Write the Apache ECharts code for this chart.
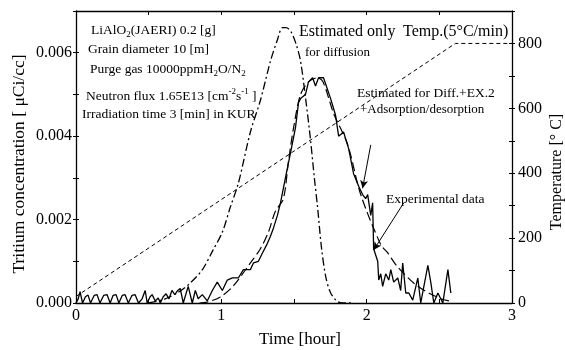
<!DOCTYPE html>
<html>
<head>
<meta charset="utf-8">
<script src="https://cdn.jsdelivr.net/npm/echarts@6/dist/echarts.min.js"></script>
<style>
html,body{margin:0;padding:0;background:#fff;}
#c{width:565px;height:350px;}
</style>
</head>
<body>
<div id="c"></div>
<script>
// ---- data (hours, concentration µCi/cc, temperature °C) ----
const expT = [0.00,0.015,0.028,0.045,0.065,0.083,0.10,0.125,0.145,0.165,0.19,0.214,0.235,0.255,0.276,0.295,0.318,0.338,0.36,0.385,0.407,0.43,0.455,0.476,0.49,0.51,0.524,0.545,0.566,0.58,0.60,0.62,0.64,0.66,0.68,0.70,0.717,0.738,0.772,0.80,0.821,0.841,0.869,0.903,0.938,0.972,1.007,1.041,1.076,1.117,1.152,1.20,1.221,1.255,1.283,1.317,1.338,1.359,1.386,1.407,1.441,1.476,1.51,1.531,1.545,1.579,1.60,1.628,1.648,1.669,1.703,1.752,1.786,1.807,1.841,1.876,1.91,1.945,1.972,1.993,2.007,2.028,2.041,2.048,2.076,2.083,2.097,2.11,2.131,2.152,2.166,2.186,2.214,2.234,2.248,2.269,2.29,2.317,2.352,2.372,2.421,2.441,2.462,2.49,2.524,2.559,2.579];
const expC = [0.0,0.0001,0.00027,0.0,0.00015,0.00019,0.0,0.00018,0.0002,0.0,0.00018,0.0002,0.0,0.00018,0.0002,0.0,0.00018,0.0002,0.0,0.00018,0.0002,0.0,0.0001,0.0003,0.0,0.00015,0.0002,0.00005,0.00012,0.0,0.00015,0.00022,0.0001,0.0003,0.0002,0.0003,0.00035,0.0,0.0004,0.0,0.0003,0.0001,0.0002,0.00005,0.0003,0.0005,0.0003,0.00055,0.0006,0.0006,0.0008,0.0008,0.00096,0.001,0.0012,0.00143,0.0016,0.0018,0.0021,0.0024,0.003,0.0036,0.0042,0.0048,0.0049,0.005,0.0053,0.0054,0.0052,0.0054,0.0054,0.0049,0.0045,0.004,0.0041,0.0037,0.0031,0.0028,0.0026,0.0025,0.0026,0.0021,0.0024,0.0013,0.001,0.00055,0.0007,0.0004,0.0007,0.00055,0.0008,0.0005,0.0006,0.0003,0.00096,0.00024,0.00024,0.00007,0.0006,0.0,0.0009,0.0005,0.0,0.00024,0.0,0.0008,0.00024];

const diffT = [0.5,0.6,0.7,0.786,0.87,0.94,1.007,1.062,1.117,1.2,1.269,1.338,1.385,1.42,1.445,1.48,1.515,1.545,1.58,1.614,1.64,1.662,1.69,1.72,1.75,1.79,1.83,1.9];
const diffC = [0.0,0.00008,0.00025,0.00048,0.0008,0.00125,0.0017,0.0023,0.00287,0.0041,0.00486,0.0058,0.0063,0.0066,0.0066,0.0065,0.0062,0.0058,0.0049,0.0039,0.003,0.0023,0.0013,0.0006,0.00026,0.00006,0.0,0.0];

const fullT = [0.85,0.9,0.99,1.08,1.2,1.269,1.324,1.372,1.427,1.462,1.497,1.545,1.6,1.66,1.7,1.772,1.869,1.959,2.097,2.145,2.214,2.352,2.51,2.566];
const fullC = [0.0,0.00002,0.00014,0.0004,0.00096,0.0013,0.0017,0.0022,0.0025,0.0034,0.0042,0.005,0.0053,0.0054,0.0053,0.00455,0.0038,0.0026,0.0014,0.0012,0.00086,0.0004,0.0001,0.00005];

const tempT = [0, 2.61, 3];
const tempC = [20, 800, 800];

const xTicks = ['0','1','2','3'];
const arrow1 = [[2.028,0.00379],[1.972,0.00275]];
const arrow2 = [[2.255,0.0024],[2.048,0.00127]];

const zip = (a,b) => a.map((v,i)=>[v,b[i]]);
const FONT = '"Liberation Serif","Times New Roman",serif';

const chart = echarts.init(document.getElementById('c'), null, {renderer:'canvas'});
const baseX = {type:'value', min:0, max:3, interval:0.5,
  axisLine:{show:true, onZero:false, lineStyle:{color:'#000', width:1.3}},
  splitLine:{show:false}};
const RICH = {sub:{fontSize:9, fontFamily:'Liberation Serif', lineHeight:9, verticalAlign:'bottom'},
              sup:{fontSize:9, fontFamily:'Liberation Serif', lineHeight:9, verticalAlign:'top'}};
const txt = (x,y,text,size) => ({type:'text', x:x, y:y, silent:true,
  style:{text:text, font:size+'px '+FONT, fill:'#000', verticalAlign:'middle', align:'left', lineHeight:18, rich:RICH}});
const title = (x,y,text,size,rot) => ({type:'text', x:x, y:y, rotation:rot, silent:true,
  style:{text:text, font:size+'px '+FONT, fill:'#000', verticalAlign:'middle', align:'center'}});

chart.setOption({
  animation:false,
  backgroundColor:'#fff',
  grid:{left:76, right:53, top:11, bottom:47},
  xAxis:[
    Object.assign({}, baseX, {position:'bottom',
      axisTick:{inside:true, length:4, lineStyle:{color:'#000'}},
      axisLabel:{color:'#000', fontFamily:FONT, fontSize:16, margin:5,
        formatter:v => (Math.abs(v-Math.round(v))<1e-6 ? xTicks[Math.round(v)] : '')}}),
    Object.assign({}, baseX, {position:'top',
      axisTick:{inside:true, length:4, lineStyle:{color:'#000'}},
      axisLabel:{show:false}})
  ],
  yAxis:[
    {type:'value', position:'left', min:0, max:0.007, interval:0.001,
      axisLine:{show:true, onZero:false, lineStyle:{color:'#000', width:1.3}},
      axisTick:{show:true, inside:true, length:3, lineStyle:{color:'#000'}},
      splitLine:{show:false},
      axisLabel:{color:'#000', fontFamily:FONT, fontSize:16, margin:4,
        formatter:v => (Math.round(v*1000)%2===0 ? v.toFixed(3) : '')}},
    {type:'value', position:'left', min:0, max:0.007, interval:0.001,
      axisLine:{show:false, onZero:false}, axisTick:{show:true, inside:false, length:3, lineStyle:{color:'#000'}},
      splitLine:{show:false}, axisLabel:{show:false}},
    {type:'value', position:'right', min:0, max:900, interval:100,
      axisLine:{show:true, onZero:false, lineStyle:{color:'#000', width:1.3}},
      axisTick:{show:true, inside:true, length:3, lineStyle:{color:'#000'}},
      splitLine:{show:false},
      axisLabel:{color:'#000', fontFamily:FONT, fontSize:16, margin:6,
        formatter:v => (Math.round(v)%200===0 ? String(Math.round(v)) : '')}},
    {type:'value', position:'right', min:0, max:900, interval:100,
      axisLine:{show:false, onZero:false}, axisTick:{show:true, inside:false, length:3, lineStyle:{color:'#000'}},
      splitLine:{show:false}, axisLabel:{show:false}}
  ],
  series:[
    {name:'Temp', type:'line', yAxisIndex:2, data:zip(tempT,tempC), showSymbol:false,
      lineStyle:{color:'#000', width:1, type:[4,3]}},
    {name:'Estimated only for diffusion', type:'line', yAxisIndex:0, data:zip(diffT,diffC), showSymbol:false,
      smooth:0.3, lineStyle:{color:'#000', width:1.3, type:[8,3,2,3]}},
    {name:'Estimated for Diff.+EX.2', type:'line', yAxisIndex:0, data:zip(fullT,fullC), showSymbol:false,
      smooth:0.3, lineStyle:{color:'#000', width:1.2, type:[9,4]}},
    {name:'Experimental data', type:'line', yAxisIndex:0, data:zip(expT,expC), showSymbol:false,
      lineStyle:{color:'#000', width:1.3},
      markLine:{silent:true, symbol:['none','arrow'], symbolSize:[6,8], label:{show:false},
        lineStyle:{color:'#000', width:1, type:'solid'},
        data:[[{coord:arrow1[0]},{coord:arrow1[1]}],[{coord:arrow2[0]},{coord:arrow2[1]}]]}}
  ],
  graphic:[
    txt(91,30,'LiAlO{sub|2}(JAERI) 0.2 [g]',13.5),
    txt(88,49,'Grain diameter 10 [m]',13.5),
    txt(90,69,'Purge gas 10000ppmH{sub|2}O/N{sub|2}',13.5),
    txt(86,96,'Neutron flux 1.65E13 [cm{sup|-2}s{sup|-1} ]',13.5),
    txt(82,114,'Irradiation time 3 [min] in KUR',13.5),
    txt(299,32,'Estimated only',16),
    txt(305,53,'for diffusion',13),
    txt(403,32,'Temp.(5°C/min)',16),
    txt(357,93,'Estimated for Diff.+EX.2',13.5),
    txt(360,110,'+Adsorption/desorption',13),
    txt(386,199,'Experimental data',13.5),
    title(19,164,'Tritium concentration [ μCi/cc]',17.5,Math.PI/2),
    title(557,172,'Temperature [° C]',16,Math.PI/2),
    title(300,340,'Time [hour]',17,0)
  ]
});
</script>
</body>
</html>
